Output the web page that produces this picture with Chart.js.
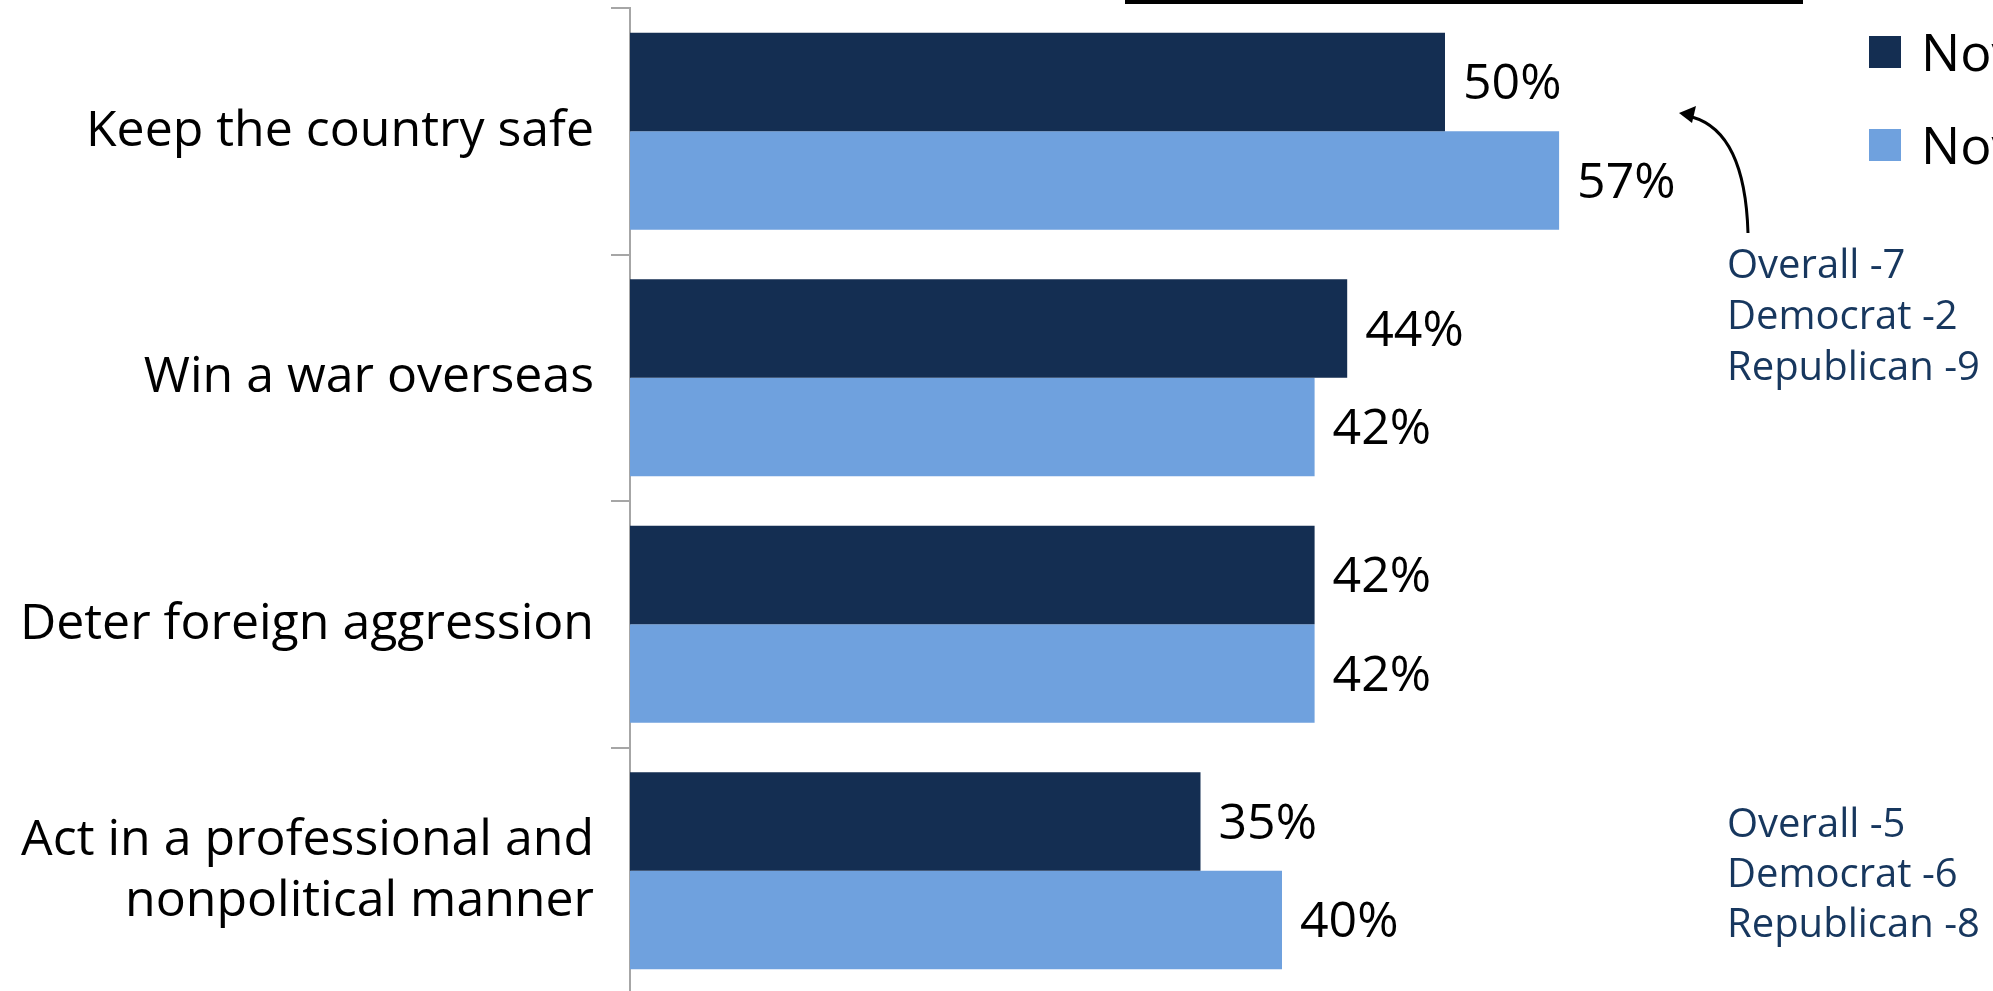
<!DOCTYPE html>
<html>
<head>
<meta charset="utf-8">
<script src="https://cdn.jsdelivr.net/npm/chart.js@4"></script>
<style>
  html, body { margin: 0; padding: 0; background: #fff; overflow: hidden; }
  canvas { display: block; }
</style>
</head>
<body>
<canvas id="trustChart" width="1993" height="1000"></canvas>
<script>
// Categories and series
const categories = [
    'Keep the country safe',
    'Win a war overseas',
    'Deter foreign aggression',
    ['Act in a professional and', 'nonpolitical manner']
];
const seriesNames = ['Nov 2021', 'Nov 2018'];
const recentValues = [50, 44, 42, 35];
const earlierValues = [57, 42, 42, 40];
const darkBlue = '#142E52';
const lightBlue = '#6FA1DE';

// Side notes (change by party)
const noteTop = ['Overall -7', 'Democrat -2', 'Republican -9'];
const noteBottom = ['Overall -5', 'Democrat -6', 'Republican -8'];

const FONT = "'Open Sans', 'Noto Sans', sans-serif";

// value labels right of each bar
const valueLabels = {
    id: 'valueLabels',
    afterDatasetsDraw(chart) {
        const ctx = chart.ctx;
        ctx.save();
        ctx.fillStyle = '#000';
        ctx.font = '50px ' + FONT;
        ctx.textBaseline = 'middle';
        ctx.textAlign = 'left';
        chart.data.datasets.forEach((ds, i) => {
            chart.getDatasetMeta(i).data.forEach((bar, j) => {
                ctx.fillText(ds.data[j] + '%', bar.x + 18, bar.y + 3);
            });
        });
        ctx.restore();
    }
};

// legend, notes, arrow, top rule
const extras = {
    id: 'extras',
    afterDraw(chart) {
        const ctx = chart.ctx;
        ctx.save();

        // rule at the very top
        ctx.fillStyle = '#000';
        ctx.fillRect(1125, 0, 678, 4);

        // legend
        const colors = [darkBlue, lightBlue];
        ctx.font = '52px ' + FONT;
        ctx.textBaseline = 'alphabetic';
        seriesNames.forEach((name, i) => {
            const y = 36 + i * 93;
            ctx.fillStyle = colors[i];
            ctx.fillRect(1869, y, 32, 32);
            ctx.fillStyle = '#000';
            ctx.fillText(name, 1921, y + 35);
        });

        // notes
        ctx.fillStyle = '#17375E';
        ctx.font = '40px ' + FONT;
        noteTop.forEach((t, i) => ctx.fillText(t, 1727, 278 + i * 51));
        noteBottom.forEach((t, i) => ctx.fillText(t, 1727, 837 + i * 50));

        // curved arrow
        ctx.strokeStyle = '#000';
        ctx.lineWidth = 3;
        ctx.beginPath();
        ctx.moveTo(1748, 233);
        ctx.quadraticCurveTo(1745, 132, 1692, 117);
        ctx.stroke();
        ctx.fillStyle = '#000';
        ctx.beginPath();
        ctx.moveTo(1679, 113);
        ctx.lineTo(1696, 106);
        ctx.lineTo(1692, 123);
        ctx.closePath();
        ctx.fill();

        ctx.restore();
    }
};

new Chart(document.getElementById('trustChart').getContext('2d'), {
    type: 'bar',
    data: {
        labels: categories,
        datasets: [{
            label: seriesNames[0],
            data: recentValues,
            backgroundColor: darkBlue
        }, {
            label: seriesNames[1],
            data: earlierValues,
            backgroundColor: lightBlue
        }]
    },
    options: {
        indexAxis: 'y',
        responsive: false,
        animation: false,
        events: [],
        layout: { padding: { left: 0, top: 8, bottom: 6, right: 59 } },
        datasets: { bar: { categoryPercentage: 0.8, barPercentage: 1.0 } },
        plugins: {
            legend: { display: false },
            tooltip: { enabled: false }
        },
        scales: {
            x: {
                display: false,
                min: 0,
                max: 80
            },
            y: {
                afterFit(scale) {
                    scale.width = 630;
                    scale.paddingTop = 0;
                    scale.paddingBottom = 0;
                },
                border: { display: true, color: '#A6A6A6', width: 2 },
                grid: {
                    offset: true,
                    drawOnChartArea: false,
                    tickLength: 19,
                    color: '#A6A6A6',
                    lineWidth: 2
                },
                ticks: {
                    color: '#000',
                    padding: 17,
                    font: { family: FONT, size: 50, lineHeight: 1.22 }
                }
            }
        }
    },
    plugins: [valueLabels, extras]
});
</script>
</body>
</html>
